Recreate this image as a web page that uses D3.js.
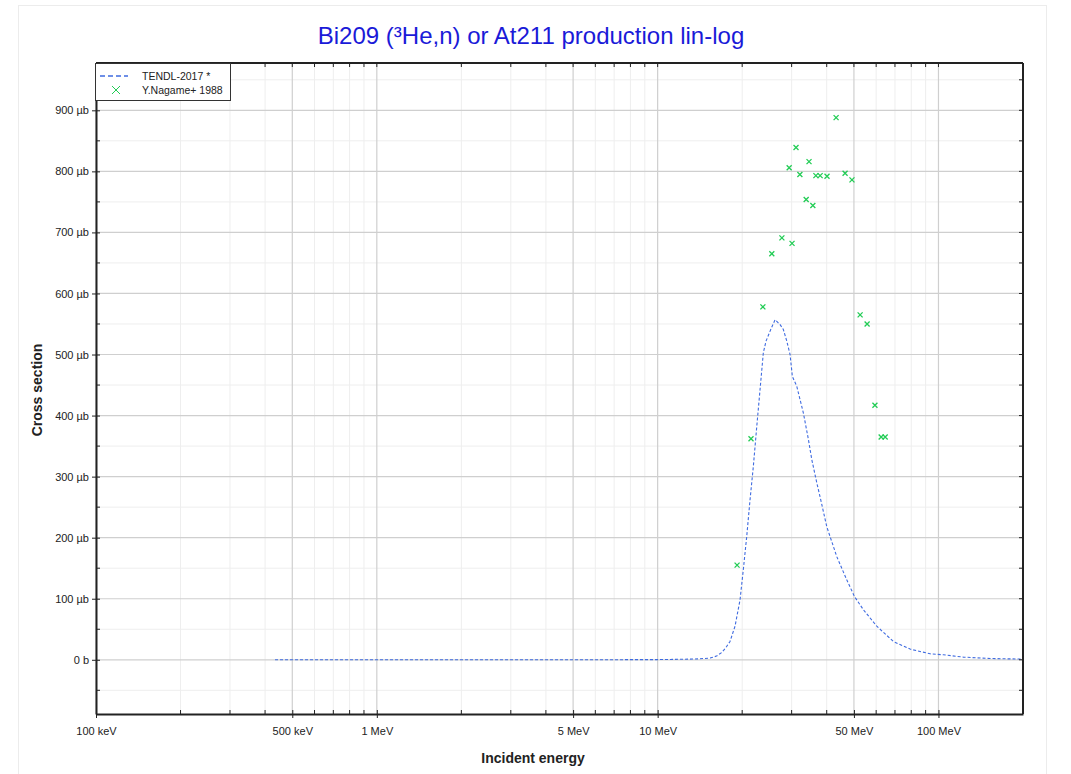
<!DOCTYPE html>
<html><head><meta charset="utf-8">
<script src="https://cdn.jsdelivr.net/npm/d3@7"></script>
<style>
body{margin:0;background:#fff;}
text{font-family:"Liberation Sans",Arial,Helvetica,sans-serif;}
</style>
</head><body><svg id="c" width="1071" height="774"></svg>
<script>
// ---- data (energies in MeV, cross sections in µb) ----
const tendlE  = [0.434, 1, 2, 5, 10, 12, 13, 14, 15.37, 16.2, 16.92, 17.5, 18.1, 18.86, 19.65, 20.19, 20.76, 21.33, 21.92, 22.54, 23.16, 23.79, 24.32, 25.28, 26.19, 27.29, 28.03, 28.83, 29.62, 30.18, 31.29, 33.04, 34.42, 35.39, 36.87, 38.09, 40.02, 43.44, 47.14, 50.17, 54.03, 60.31, 69.09, 79.23, 93.33, 104.1, 122.6, 152.7, 200];
const tendlXS = [0, 0, 0, 0, 0.3, 0.8, 1.1, 1.5, 2.8, 6, 12, 20, 30, 55, 98, 148, 202, 262, 317, 382, 443, 503, 522, 541, 557, 549, 541, 522, 500, 464, 448, 404, 361, 328, 290, 262, 218, 169, 131, 104, 82, 55, 30, 17.5, 9.8, 8.2, 4.4, 2.1, 1.1];
const expE  = [19.18, 21.5, 23.7, 25.5, 27.7, 29.4, 30.1, 31.1, 32.1, 33.8, 34.6, 35.7, 36.6, 37.9, 40.1, 43.2, 46.5, 49.2, 52.6, 55.7, 59.4, 62.5, 64.6];
const expXS = [155, 362, 578, 665, 691, 806, 682, 839, 795, 754, 816, 744, 793, 793, 792, 888, 797, 786, 565, 550, 417, 365, 365];
const xMajorTicks = [0.1, 0.5, 1, 5, 10, 50, 100];
const xTickLabels = ["100 keV", "500 keV", "1 MeV", "5 MeV", "10 MeV", "50 MeV", "100 MeV"];
const yMajorTicks = [0, 100, 200, 300, 400, 500, 600, 700, 800, 900];
const yTickLabels = ["0 b", "100 µb", "200 µb", "300 µb", "400 µb", "500 µb", "600 µb", "700 µb", "800 µb", "900 µb"];
const seriesNames = ["TENDL-2017 *", "Y.Nagame+ 1988"];
const titleText = "Bi209 (³He,n) or At211 production lin-log";

// ---- layout ----
const L = 96, R = 1023, T = 63, B = 714;
const lineColor = "#3f6be0", markColor = "#22cc55";
const svg = d3.select("#c");

const x = d3.scaleLog().domain([0.1, 200]).range([L, R]);
const y = d3.scaleLinear().domain([-88.8, 977.5]).range([B, T]);

// outer frame
svg.append("rect").attr("x", 18.5).attr("y", 5.5).attr("width", 1028).attr("height", 800)
  .attr("fill", "none").attr("stroke", "#ececec");

// minor ticks
const xMinor = [];
[0.1, 1, 10, 100].forEach(d => { for (let k = 2; k <= 9; k++) { const v = +(k * d).toPrecision(3); if (v < 200 && !xMajorTicks.includes(v)) xMinor.push(v); } });
const yMinor = d3.range(-50, 977, 50).filter(v => !yMajorTicks.includes(v));

const g = svg.append("g");
// grid
g.selectAll(".xmg").data(xMinor).join("line").attr("x1", d => x(d)).attr("x2", d => x(d))
  .attr("y1", T).attr("y2", B).attr("stroke", "#eeeeee").attr("stroke-width", 1);
g.selectAll(".ymg").data(yMinor).join("line").attr("y1", d => y(d)).attr("y2", d => y(d))
  .attr("x1", L).attr("x2", R).attr("stroke", "#eeeeee").attr("stroke-width", 1);
g.selectAll(".xMg").data(xMajorTicks).join("line").attr("x1", d => x(d)).attr("x2", d => x(d))
  .attr("y1", T).attr("y2", B).attr("stroke", "#cfcfcf").attr("stroke-width", 1.2);
g.selectAll(".yMg").data(yMajorTicks).join("line").attr("y1", d => y(d)).attr("y2", d => y(d))
  .attr("x1", L).attr("x2", R).attr("stroke", "#cfcfcf").attr("stroke-width", 1.2);

// data: TENDL line
const line = d3.line().x((d, i) => x(tendlE[i])).y((d, i) => y(tendlXS[i]));
svg.append("path").datum(tendlXS).attr("d", line).attr("fill", "none")
  .attr("stroke", lineColor).attr("stroke-width", 1.1).attr("stroke-dasharray", "3,2");

// experimental markers
const cross = (sel, s) => sel.attr("d", `M${-s},${-s}L${s},${s}M${-s},${s}L${s},${-s}`);
svg.selectAll(".pt").data(expXS).join("path")
  .attr("transform", (d, i) => `translate(${x(expE[i])},${y(d)})`)
  .call(cross, 2.5).attr("stroke", markColor).attr("stroke-width", 1.3).attr("fill", "none");

// axes
const ax = svg.append("g").attr("transform", `translate(0,${B})`);
const xAxis = d3.axisBottom(x).tickValues(xMajorTicks).tickFormat((d, i) => xTickLabels[i]).tickSize(4).tickSizeOuter(0).tickPadding(9);
ax.call(xAxis);
ax.selectAll(".tick line").attr("y1", -4);
ax.selectAll(".mt").data(xMinor).join("line").attr("x1", d => x(d)).attr("x2", d => x(d)).attr("y1", 0).attr("y2", -4).attr("stroke", "#222");

const ay = svg.append("g").attr("transform", `translate(${L},0)`);
const yAxis = d3.axisLeft(y).tickValues(yMajorTicks).tickFormat((d, i) => yTickLabels[i]).tickSize(4).tickSizeOuter(0).tickPadding(3);
ay.call(yAxis);
ay.selectAll(".tick line").attr("x1", 4);
ay.selectAll(".mt").data(yMinor).join("line").attr("y1", d => y(d)).attr("y2", d => y(d)).attr("x1", 0).attr("x2", 4).attr("stroke", "#222");

[ax, ay].forEach(a => {
  a.selectAll(".domain").attr("stroke", "#222").attr("stroke-width", 2);
  a.selectAll(".tick line").attr("stroke", "#222");
  a.selectAll("text").attr("font-size", 11).attr("fill", "#222").attr("font-family", "Liberation Sans, Arial, sans-serif");
});

// top and right mirrored ticks
const frameG = svg.append("g");
frameG.append("line").attr("x1", L).attr("x2", R).attr("y1", T).attr("y2", T).attr("stroke", "#222").attr("stroke-width", 2);
frameG.append("line").attr("x1", R).attr("x2", R).attr("y1", T).attr("y2", B).attr("stroke", "#222").attr("stroke-width", 2);
frameG.selectAll(".tt").data(xMajorTicks.concat(xMinor)).join("line").attr("x1", d => x(d)).attr("x2", d => x(d))
  .attr("y1", T).attr("y2", T + 4).attr("stroke", "#222");
frameG.selectAll(".rt").data(yMajorTicks.concat(yMinor)).join("line").attr("y1", d => y(d)).attr("y2", d => y(d))
  .attr("x1", R).attr("x2", R - 4).attr("stroke", "#222");

// legend
const lg = svg.append("g");
lg.append("rect").attr("x", 95.5).attr("y", 63.5).attr("width", 135).attr("height", 37)
  .attr("fill", "#fff").attr("stroke", "#333").attr("stroke-width", 1);
lg.append("line").attr("x1", 100).attr("x2", 128).attr("y1", 76).attr("y2", 76)
  .attr("stroke", lineColor).attr("stroke-width", 1.6).attr("stroke-dasharray", "5,3");
lg.append("path").attr("transform", "translate(116,90)").call(cross, 4)
  .attr("stroke", markColor).attr("stroke-width", 1).attr("fill", "none");
lg.selectAll(".lt").data(seriesNames).join("text").attr("x", 142).attr("y", (d, i) => 76 + i * 14)
  .attr("dy", "0.35em").attr("font-size", 10.5).attr("fill", "#222").text(d => d);

// titles
svg.append("text").attr("x", 531).attr("y", 44).attr("text-anchor", "middle")
  .attr("font-size", 24).attr("fill", "#1a1ad8").text(titleText);
svg.append("text").attr("x", 533).attr("y", 763).attr("text-anchor", "middle")
  .attr("font-size", 14).attr("font-weight", "bold").attr("fill", "#222").text("Incident energy");
svg.append("text").attr("transform", "translate(42,390) rotate(-90)").attr("text-anchor", "middle")
  .attr("font-size", 14).attr("font-weight", "bold").attr("fill", "#222").text("Cross section");
</script>
</body></html>
